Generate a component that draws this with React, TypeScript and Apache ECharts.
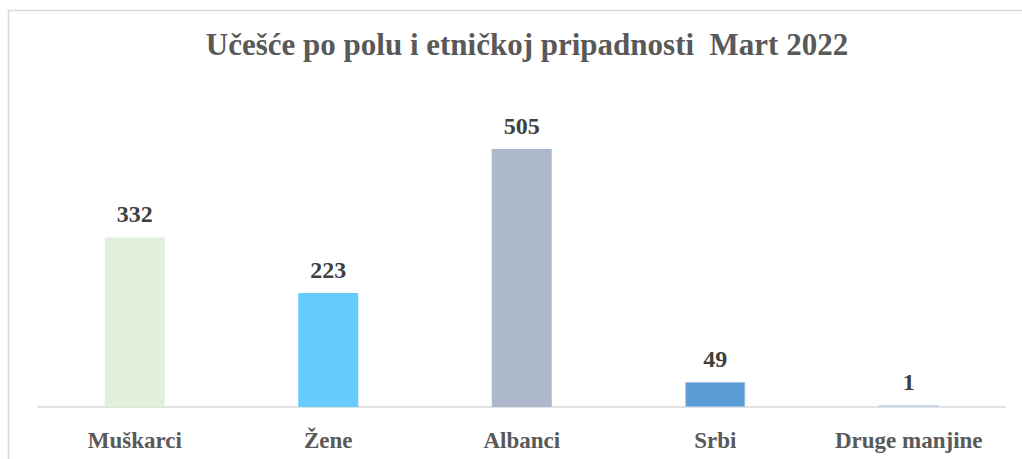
import React, { useEffect, useRef } from "react";
import * as echarts from "echarts";

const categories = ["Muškarci", "Žene", "Albanci", "Srbi", "Druge manjine"];
const values = [332, 223, 505, 49, 1];
const barColors = ["#E2EFDA", "#66CCFF", "#ADB9CA", "#5B9BD5", "#C9D6E3"];
const titleText = "Učešće po polu i etničkoj pripadnosti  Mart 2022";

export default function App() {
  const ref = useRef<HTMLDivElement>(null);
  useEffect(() => {
    if (!ref.current) return;
    const chart = echarts.init(ref.current, undefined, { renderer: "svg" });
    const font = "'Liberation Serif', 'Times New Roman', serif";
    chart.setOption({
      animation: false,
      title: {
        text: titleText,
        left: 522,
        top: 24,
        textAlign: "center",
        textStyle: { fontFamily: font, fontWeight: "bold", fontSize: 31, color: "#595959" },
      },
      graphic: [
        {
          type: "rect",
          shape: { x: 8.5, y: 10.5, width: 1100, height: 600 },
          style: { fill: "none", stroke: "#D9D9D9", lineWidth: 1.5 },
          silent: true,
        },
      ],
      grid: { left: 38, right: 16.5, top: 100.5, bottom: 52 },
      xAxis: {
        type: "category",
        data: categories,
        axisLine: { lineStyle: { color: "#D9D9D9", width: 1.5 } },
        axisTick: { show: false },
        axisLabel: {
          margin: 22,
          fontFamily: font,
          fontWeight: "bold",
          fontSize: 23,
          color: "#595959",
        },
      },
      yAxis: {
        type: "value",
        min: 0,
        max: 600,
        show: false,
        splitLine: { show: false },
      },
      series: [
        {
          type: "bar",
          barWidth: 60,
          barMinHeight: 2,
          data: values.map((v, i) => ({
            value: v,
            itemStyle: {
              color: barColors[i],
              borderColor: i === 3 ? "#9DC3E6" : undefined,
              borderWidth: i === 3 ? 1 : 0,
            },
          })),
          label: {
            show: true,
            position: "top",
            distance: 11,
            fontFamily: font,
            fontWeight: "bold",
            fontSize: 24,
            color: "#404040",
          },
        },
      ],
    });
    return () => chart.dispose();
  }, []);
  return (
    <div
      ref={ref}
      style={{ position: "fixed", left: 0, top: 0, width: 1022, height: 459, background: "#fff" }}
    />
  );
}
